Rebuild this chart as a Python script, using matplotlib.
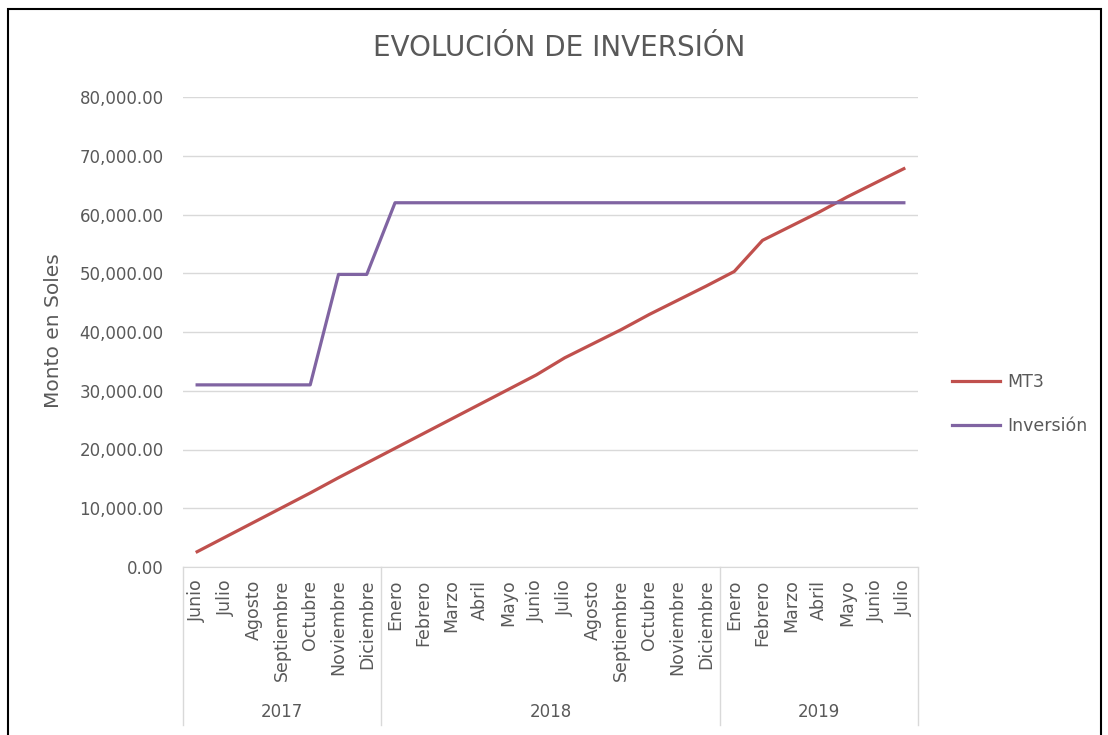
import matplotlib.pyplot as plt
import matplotlib.transforms as mtransforms
from matplotlib.patches import Rectangle
import numpy as np

plt.rcParams['font.family'] = ['DejaVu Sans']

months = ['Junio', 'Julio', 'Agosto', 'Septiembre', 'Octubre', 'Noviembre', 'Diciembre',
          'Enero', 'Febrero', 'Marzo', 'Abril', 'Mayo', 'Junio', 'Julio', 'Agosto',
          'Septiembre', 'Octubre', 'Noviembre', 'Diciembre',
          'Enero', 'Febrero', 'Marzo', 'Abril', 'Mayo', 'Junio', 'Julio']
years = ['2017', '2018', '2019']
year_counts = [7, 12, 7]
mt3 = [2600, 5100, 7600, 10100, 12600, 15200, 17700,
       20200, 22700, 25200, 27700, 30200, 32700, 35600, 38000, 40400, 43000, 45400, 47800,
       50300, 55600, 58000, 60400, 63000, 65400, 67800]
inversion = [31000, 31000, 31000, 31000, 31000, 49800, 49800,
             62000, 62000, 62000, 62000, 62000, 62000, 62000, 62000, 62000, 62000, 62000, 62000,
             62000, 62000, 62000, 62000, 62000, 62000, 62000]

W, H = 1108, 735
txt = '#595959'
grid = '#d9d9d9'

fig = plt.figure(figsize=(W / 100, H / 100), dpi=100)
fig.patches.append(Rectangle((8 / W, -0.01), (1101 - 8) / W, 1 - 9 / H + 0.01,
                             transform=fig.transFigure, fill=False, ec='black', lw=1.5))

ax = fig.add_axes([183 / W, 1 - 567 / H, (918 - 183) / W, (567 - 97) / H])
x = np.arange(len(months))
ax.plot(x, mt3, color='#C0504D', lw=2.3, label='MT3', solid_joinstyle='round')
ax.plot(x, inversion, color='#8064A2', lw=2.3, label='Inversión', solid_joinstyle='round')

ax.set_xlim(-0.5, len(months) - 0.5)
ax.set_ylim(0, 80000)
ax.set_yticks(np.arange(0, 80001, 10000))
ax.set_yticklabels([f'{v:,.2f}' for v in np.arange(0, 80001, 10000)])
ax.yaxis.grid(True, color=grid, lw=1)
ax.set_axisbelow(True)
ax.tick_params(axis='y', length=0, pad=14, labelsize=12, labelcolor=txt)
for s in ['top', 'right', 'left']:
    ax.spines[s].set_visible(False)
ax.spines['bottom'].set_color(grid)

ax.set_xticks(x)
ax.set_xticklabels(months, rotation=90, va='top', ha='center')
ax.tick_params(axis='x', length=0, pad=9, labelsize=12.5, labelcolor=txt)

# category group boxes
trans = mtransforms.blended_transform_factory(ax.transData, ax.transAxes)
bottom = (567 - 725) / 470
edges = np.concatenate([[0], np.cumsum(year_counts)]) - 0.5
for e in edges:
    ax.plot([e, e], [0, bottom], color=grid, lw=1, transform=trans, clip_on=False)
for i, yr in enumerate(years):
    ax.text((edges[i] + edges[i + 1]) / 2, (567 - 712) / 470, yr, transform=trans,
            ha='center', va='center', fontsize=12, color=txt)

fig.text(54 / W, 1 - 331 / H, 'Monto en Soles', rotation=90, ha='center', va='center',
         fontsize=14.5, color=txt)
fig.text(559 / W, 1 - 48 / H, 'EVOLUCIÓN DE INVERSIÓN', ha='center', va='center',
         fontsize=20, color=txt)

ax.legend(loc='center left', bbox_to_anchor=(936 / W, 1 - 404 / H),
          bbox_transform=fig.transFigure, frameon=False, fontsize=12.5,
          handlelength=2.8, labelspacing=1.5, handletextpad=0.4, labelcolor=txt)

fig.savefig('out.png', dpi=100, facecolor='white')
